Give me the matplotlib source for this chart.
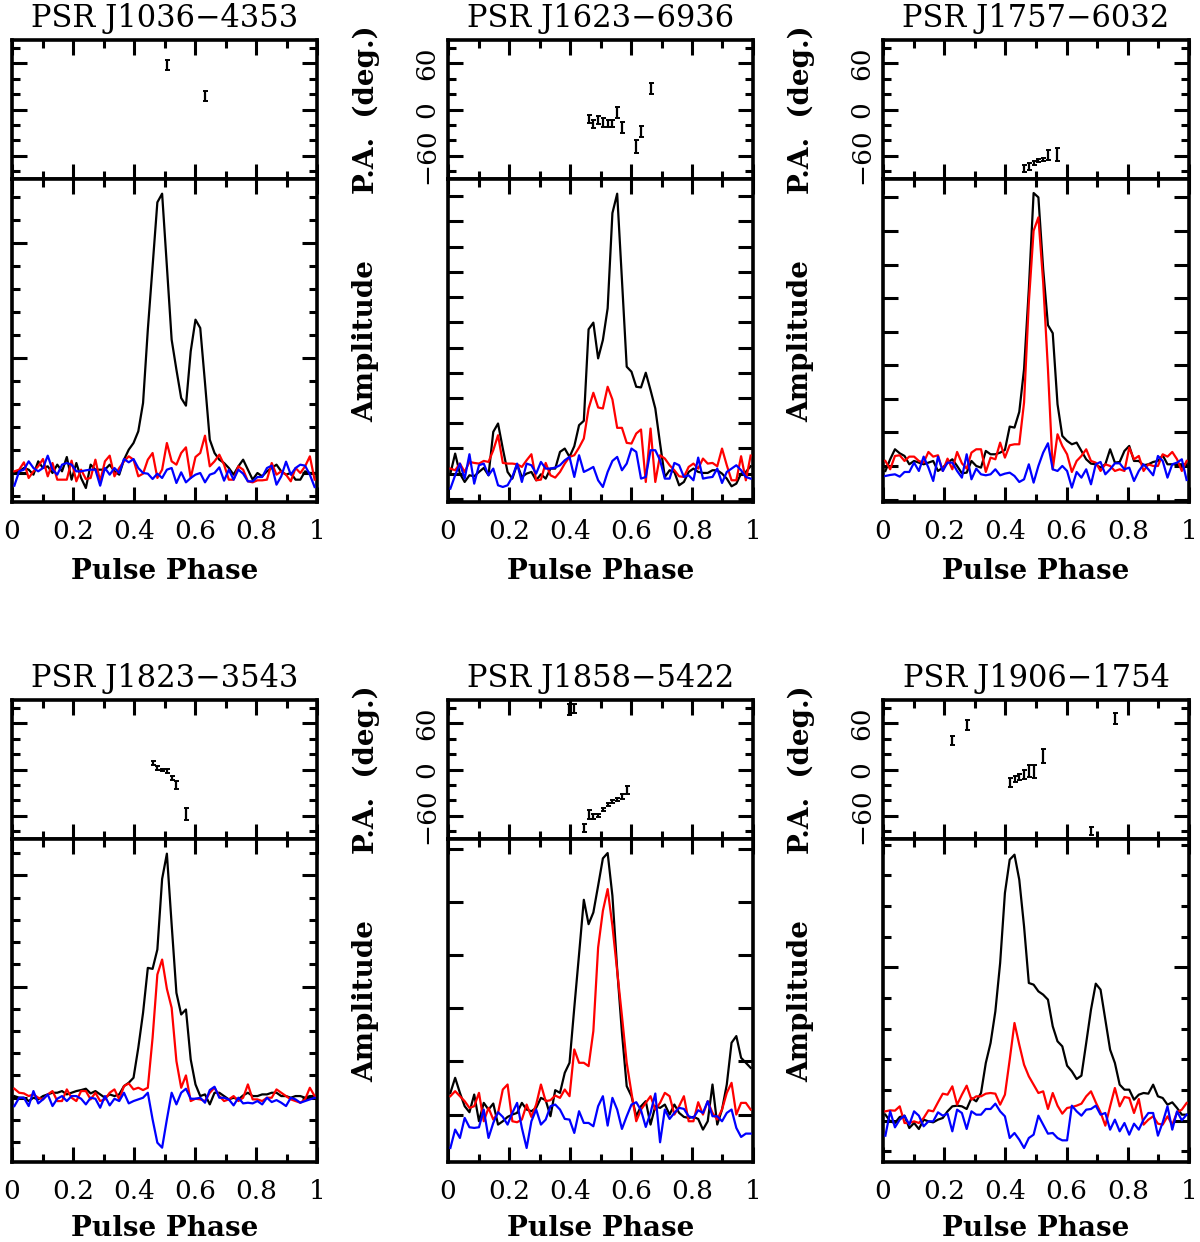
import numpy as np
import matplotlib
matplotlib.use('Agg')
import matplotlib.pyplot as plt
from matplotlib.ticker import MultipleLocator, NullLocator, FuncFormatter, NullFormatter

plt.rcParams['font.family'] = ['DejaVu Serif']

NBIN = 64
phase = (np.arange(NBIN) + 0.5) / NBIN

# ---------------- data (arbitrary amplitude units, zero = baseline) ----------------
names = ["PSR J1036\u22124353", "PSR J1623\u22126936", "PSR J1757\u22126032",
         "PSR J1823\u22123543", "PSR J1858\u22125422", "PSR J1906\u22121754"]

j1036_I = [0, 5, 15, 10, -5, 35, 15, 20, 0, 25, 5, 48, -20, 30, -15, -45, 25, 10, 10, 10,
           25, 5, -5, 40, 70, 90, 125, 210, 430, 620, 812, 838, 620, 400, 310, 225, 202, 365, 460, 435,
           270, 100, 60, 40, 30, 15, -5, 20, 40, 10, -20, 0, -10, 5, 15, 25, 5, -5, 0, -20,
           -20, 5, 0, 0]
j1036_L = [5, 10, 32, -15, 5, 20, 42, -10, 30, -20, -20, -20, 37, -25, 10, -18, -15, 40, -25, 35,
           52, -10, 15, 35, 50, 40, -10, -2, 40, 60, -15, 10, 90, 35, 25, 60, 77, -15, 48, 60,
           112, 20, 35, 55, 25, -20, -20, 20, 10, -25, -28, -22, -22, -20, 30, -5, 5, -5, -25, 15,
           0, 20, 50, -20]
j1036_V = [-38, 5, 10, 35, 15, 5, 15, 52, 10, -5, 25, 30, 25, 5, 5, 8, 10, 10, -38, 15,
           -5, 15, 0, 42, 32, 42, 15, 0, -2, -18, -2, -15, 10, 15, -30, 2, -28, -15, -5, 0,
           -28, -5, 0, 17, -23, 10, -20, 10, -2, -25, -25, -12, -12, 15, 22, -35, -10, 34, -5, 15,
           25, 22, -5, -42]

j1623_I = [0, 60, 0, -25, -5, -8, 5, 17, -5, 125, 150, 75, 5, -15, 28, -10, 0, 5, -20, -2,
           -15, 15, 15, 65, 75, 50, 82, 145, 158, 432, 452, 345, 400, 495, 780, 838, 580, 320, 305, 260,
           258, 302, 250, 195, 90, -10, 10, 5, -35, -25, 5, 15, 5, 2, 2, 10, 10, 0, -15, -38,
           -30, 0, 5, 22]
j1623_L = [15, 10, 30, 5, 35, 32, 30, 38, 35, 70, 115, 32, 30, 30, 28, 20, 40, 58, -20, -18,
           32, -5, -12, 5, 30, 50, 55, 78, 105, 195, 242, 198, 195, 260, 222, 137, 137, 92, 90, 120,
           132, -25, 135, -25, 55, 45, 25, 10, -8, -10, 20, 30, 15, 45, 30, 32, 22, 75, 25, -20,
           -20, 52, -20, 54]
j1623_V = [-45, -5, 30, -15, 58, -30, 25, 30, -5, 15, -35, -40, -35, -10, 30, -25, 30, 25, 0, 35,
           15, 15, 18, 25, 40, 50, -10, 55, 5, 12, 20, -20, -40, 5, 38, 50, 10, 30, 75, 65,
           -15, -10, 70, 70, 40, -15, -15, 32, 25, -10, -5, -20, 48, -15, -12, -10, 15, -28, 5, 15,
           25, 10, -10, -15]

j1757_I = [-15, 20, 50, 38, 30, 5, 15, 10, 5, 10, 15, -15, -5, 10, 20, 0, -22, -20, 15, 0,
           -5, 45, 35, 35, 40, 48, 118, 115, 162, 290, 530, 818, 805, 590, 422, 398, 185, 90, 75, 65,
           70, 45, 20, 7, 5, -5, 5, 50, 10, 12, 45, 60, 15, 15, 2, 5, 12, 15, 32, 5,
           5, 5, 5, 5]
j1757_L = [15, -10, 30, 32, 15, 28, 28, 15, 10, 42, 28, 32, -15, 22, -10, 42, 8, -8, 40, 50,
           50, -18, 25, 20, 70, 25, 62, 65, 65, 190, 490, 705, 745, 550, 290, -10, 95, 60, 35, -18,
           15, 30, 50, 15, 10, -15, 5, 0, -15, -10, -15, 55, 20, 30, -15, 5, 0, 0, 35, 28,
           42, 20, -15, 15]
j1757_V = [-30, -27, -25, -32, -18, -18, 10, -15, 28, -5, -45, 28, -15, 10, 10, -15, -35, 35, -40, -8,
           -25, -28, -25, -10, -28, -23, -20, -30, -48, -40, 5, -50, 0, 40, 68, -10, -15, 0, -15, -65,
           -18, -35, -10, -55, 5, 12, -25, -10, 8, 8, -10, -5, -45, -15, 5, -10, -28, 30, 15, -35,
           5, 10, 20, -42]

j1823_I = [5, 0, 0, -10, 0, -5, 5, 10, 15, 15, 20, 10, 15, 20, 23, 27, 13, 20, 10, 0,
           10, 5, 10, 35, 45, 60, 150, 255, 390, 387, 445, 657, 733, 520, 315, 250, 265, 115, 40, 5,
           10, -20, 15, 15, 5, -5, 0, -5, 7, 15, 5, 5, 10, 10, 15, 15, 5, 5, 0, 5,
           5, 0, 5, 5]
j1823_L = [27, 15, 13, 5, 10, 0, -5, 10, 20, -10, -10, 25, 0, -10, 20, 20, -5, 15, -10, -5,
           15, 25, -5, 35, 43, 25, 30, 23, 30, 180, 370, 415, 327, 270, 110, 30, 67, -10, -3, -5,
           -10, 15, 30, 5, -10, -5, 5, -10, 0, 40, -5, -5, -10, 0, 0, 25, 15, 5, -5, -10,
           -15, -5, 30, 5]
j1823_V = [-25, 0, 0, -25, 20, -17, -5, 10, -25, -3, 5, -10, 5, 5, -3, -20, 0, -3, -30, 5,
           -23, -3, -10, 15, -17, -10, -5, 0, 15, -65, -135, -150, -65, 15, -20, 15, 27, -3, -3, 0,
           -15, 23, 33, 0, 0, -5, -23, 0, -17, -15, -17, -10, -20, 0, -13, -7, -15, -25, 0, -5,
           -15, -10, -5, 0]

j1858_I = [65, 110, 65, 25, 7, 60, -20, 35, 15, 33, -30, -20, -7, 0, 5, 35, 15, 10, 20, 50,
           43, -5, 73, 65, 125, 155, 320, 480, 643, 570, 605, 685, 767, 783, 655, 435, 245, 85, 55, -5,
           25, 40, -30, 25, 20, 30, 0, 30, 5, -7, -10, -7, -13, -45, -20, 90, -30, 15, 90, 215,
           235, 170, 155, 140]
j1858_L = [55, 70, 55, 40, 20, 25, 65, -20, 20, -15, 5, 75, 90, -20, -23, -15, 30, -7, 30, 90,
           40, 43, 57, 50, 75, 55, 195, 155, 155, 145, 250, 500, 610, 675, 565, 430, 295, 155, 65, -20,
           15, 35, 55, 15, 35, 65, 55, 0, 25, 55, -20, -20, 37, 0, 40, 5, -15, 15, 65, 95,
           0, 35, 35, 15]
j1858_V = [-100, -45, -70, -10, -38, -40, -38, 15, -70, -25, 7, -7, -30, 5, 35, -40, -100, -20, 15, -30,
           -15, 25, 30, 15, -13, -15, -55, 10, -25, -25, -35, 25, 55, -33, 50, 15, -43, -5, 30, 37,
           13, -37, 5, 63, -83, 15, -13, 5, 20, 17, -5, -10, 13, 5, 40, -5, -5, -20, 5, 15,
           -40, -67, -57, -57]

j1906_I = [18, -2, -7, 11, 15, -22, -7, -25, 3, -2, -5, 3, 8, 28, 43, 45, 43, 35, 68, 58,
           83, 173, 233, 328, 473, 683, 783, 798, 723, 583, 413, 408, 388, 378, 363, 283, 238, 223, 165, 148,
           125, 135, 233, 333, 411, 393, 303, 213, 173, 108, 93, 93, 63, 78, 83, 81, 108, 73, 68, 48,
           55, 38, 18, 18]
j1906_L = [28, 31, 30, 43, -7, -7, -2, -7, 8, 31, 28, 55, 81, 78, 103, 48, 78, 105, 63, 73,
           73, 81, 83, 81, 48, 78, 183, 293, 228, 168, 133, 108, 83, 88, 35, 83, 45, 21, 38, 41,
           45, 51, 73, 88, 55, 25, -15, 43, 98, 43, 71, 68, 23, 65, -12, 3, 13, -9, -12, 13,
           -12, 25, 33, 53]
j1906_V = [-45, 28, -20, 3, 15, -12, 28, 15, -17, -2, -2, 25, 15, 21, -32, 33, 23, -25, 28, 18,
           18, 35, 35, 51, 28, 13, -52, -37, -57, -82, -52, -42, 15, -12, -39, -37, -52, -59, -59, 45,
           28, 15, 33, 35, 45, 18, 23, -27, 3, -32, -7, -42, -9, -27, 3, 23, 23, -45, -5, 43,
           -27, 28, 1, 18]

# position angles (deg) with phase and 1-sigma errors
j1036_pa_ph = [0.508, 0.633]
j1036_pa = [57.6, 17.0]
j1036_pa_err = [6.5, 6.5]

j1623_pa_ph = [0.461, 0.477, 0.492, 0.508, 0.523, 0.539, 0.555, 0.570, 0.617, 0.633, 0.664]
j1623_pa = [-12.3, -18.8, -13.6, -16.8, -18.4, -18.4, -3.9, -23.3, -48.0, -28.7, 27.4]
j1623_pa_err = [5.4, 5.4, 5.8, 5.4, 4.7, 4.7, 7.6, 7.6, 8.6, 7.3, 7.3]

j1757_pa_ph = [0.461, 0.477, 0.492, 0.508, 0.523, 0.539, 0.570]
j1757_pa = [-76.6, -74.0, -69.3, -66.3, -64.6, -59.0, -58.5]
j1757_pa_err = [4.7, 4.3, 2.6, 2.2, 2.2, 6.5, 8.2]

j1823_pa_ph = [0.461, 0.477, 0.492, 0.508, 0.523, 0.539, 0.570]
j1823_pa = [8.2, 2.2, -0.4, -1.7, -11.3, -19.9, -57.5]
j1823_pa_err = [2.8, 2.2, 1.5, 2.6, 2.6, 5.0, 8.0]

j1858_pa_ph = [0.398, 0.414, 0.445, 0.461, 0.477, 0.492, 0.508, 0.523, 0.539, 0.555, 0.570, 0.586]
j1858_pa = [77.3, 79.0, -76.0, -58.0, -61.0, -59.0, -52.0, -45.0, -42.0, -39.0, -35.0, -27.0]
j1858_pa_err = [7.0, 5.4, 5.0, 6.0, 3.0, 2.0, 2.0, 2.0, 2.0, 2.0, 3.0, 5.0]

j1906_pa_ph = [0.227, 0.273, 0.414, 0.430, 0.445, 0.461, 0.477, 0.492, 0.523, 0.680, 0.758]
j1906_pa = [37.2, 57.5, -16.5, -12.1, -9.5, -6.1, -1.7, -2.6, 16.9, -80.0, 65.8]
j1906_pa_err = [6.0, 6.5, 5.8, 4.3, 4.3, 6.0, 8.0, 8.0, 9.0, 5.0, 7.0]

profiles_I = [j1036_I, j1623_I, j1757_I, j1823_I, j1858_I, j1906_I]
profiles_L = [j1036_L, j1623_L, j1757_L, j1823_L, j1858_L, j1906_L]
profiles_V = [j1036_V, j1623_V, j1757_V, j1823_V, j1858_V, j1906_V]
pa_phases = [j1036_pa_ph, j1623_pa_ph, j1757_pa_ph, j1823_pa_ph, j1858_pa_ph, j1906_pa_ph]
pa_values = [j1036_pa, j1623_pa, j1757_pa, j1823_pa, j1858_pa, j1906_pa]
pa_errors = [j1036_pa_err, j1623_pa_err, j1757_pa_err, j1823_pa_err, j1858_pa_err, j1906_pa_err]

# amplitude axis ranges and tick spacings (same arbitrary units)
amp_ylim = [(-87, 882), (-85, 882), (-108, 860), (-193, 777), (-142, 825), (-124, 845)]
amp_major = [344.5, 75.5, 100.6, 334.0, 159.0, 460.0]
amp_minor = [68.9, None, None, 66.8, None, 92.0]

# ---------------- layout (pixels) ----------------
W, H = 1200, 1242
col_left = [12, 448, 883]
col_right = [317, 753, 1189]
row_top = [40, 700]
row_div = [179, 839]
row_bot = [502, 1162]
xlabel_base = [579, 1236]

fig = plt.figure(figsize=(W / 100, H / 100), dpi=100)


def ax_at(x0, y0, x1, y1):
    return fig.add_axes([x0 / W, 1 - y1 / H, (x1 - x0) / W, (y1 - y0) / H])


def frame(ax):
    for s in ax.spines.values():
        s.set_linewidth(2.6)
    ax.tick_params(which='both', direction='in', top=True, right=True, width=2.2)
    ax.tick_params(which='major', length=11)
    ax.tick_params(which='minor', length=6)


TICK_FS = 19
LABEL_FS = 20
TITLE_FS = 22

for i in range(6):
    r, c = divmod(i, 3)
    xl, xr = col_left[c], col_right[c]

    # ---- PA panel ----
    axp = ax_at(xl, row_top[r], xr, row_div[r])
    frame(axp)
    axp.errorbar(pa_phases[i], pa_values[i], yerr=pa_errors[i], fmt='none',
                 ecolor='black', elinewidth=1.6, capsize=1.8, capthick=1.4)
    axp.set_xlim(0, 1)
    axp.set_ylim(-90, 90)
    axp.xaxis.set_major_locator(MultipleLocator(0.2))
    axp.xaxis.set_minor_locator(MultipleLocator(0.1))
    axp.yaxis.set_major_locator(MultipleLocator(60))
    axp.yaxis.set_minor_locator(MultipleLocator(20))
    axp.xaxis.set_major_formatter(NullFormatter())
    if c == 0:
        axp.yaxis.set_major_formatter(NullFormatter())
    else:
        axp.tick_params(axis='y', which='major', labelsize=TICK_FS, labelrotation=90, pad=6)
        for lab in axp.get_yticklabels():
            lab.set_va('center')

    # ---- amplitude panel ----
    axa = ax_at(xl, row_div[r], xr, row_bot[r])
    frame(axa)
    axa.plot(phase, profiles_I[i], color='black', lw=1.6, zorder=3)
    axa.plot(phase, profiles_L[i], color='#ff0000', lw=1.6, zorder=4)
    axa.plot(phase, profiles_V[i], color='#0000ff', lw=1.6, zorder=5)
    axa.set_xlim(0, 1)
    axa.set_ylim(*amp_ylim[i])
    axa.xaxis.set_major_locator(MultipleLocator(0.2))
    axa.xaxis.set_minor_locator(MultipleLocator(0.1))
    axa.yaxis.set_major_locator(MultipleLocator(amp_major[i]))
    if amp_minor[i] is None:
        axa.yaxis.set_minor_locator(NullLocator())
    else:
        axa.yaxis.set_minor_locator(MultipleLocator(amp_minor[i]))
    axa.yaxis.set_major_formatter(NullFormatter())
    axa.xaxis.set_major_formatter(FuncFormatter(lambda v, p: '%g' % round(v, 1)))
    axa.tick_params(axis='x', which='major', labelsize=TICK_FS, pad=12)

    xc = (xl + xr) / 2 / W
    fig.text(xc, 1 - (row_top[r] - 22) / H, names[i], ha='center', va='center',
             fontsize=TITLE_FS)
    fig.text(xc, 1 - xlabel_base[r] / H, 'Pulse Phase', ha='center', va='baseline',
             fontsize=LABEL_FS, fontweight='bold')
    if c > 0:
        fig.text((xl - 82) / W, 1 - (row_top[r] + row_div[r]) / 2 / H, 'P.A.  (deg.)',
                 ha='center', va='center', rotation=90, fontsize=LABEL_FS, fontweight='bold')
        fig.text((xl - 82) / W, 1 - (row_div[r] + row_bot[r]) / 2 / H, 'Amplitude',
                 ha='center', va='center', rotation=90, fontsize=LABEL_FS, fontweight='bold')

fig.savefig('out.png', dpi=100, facecolor='white')
